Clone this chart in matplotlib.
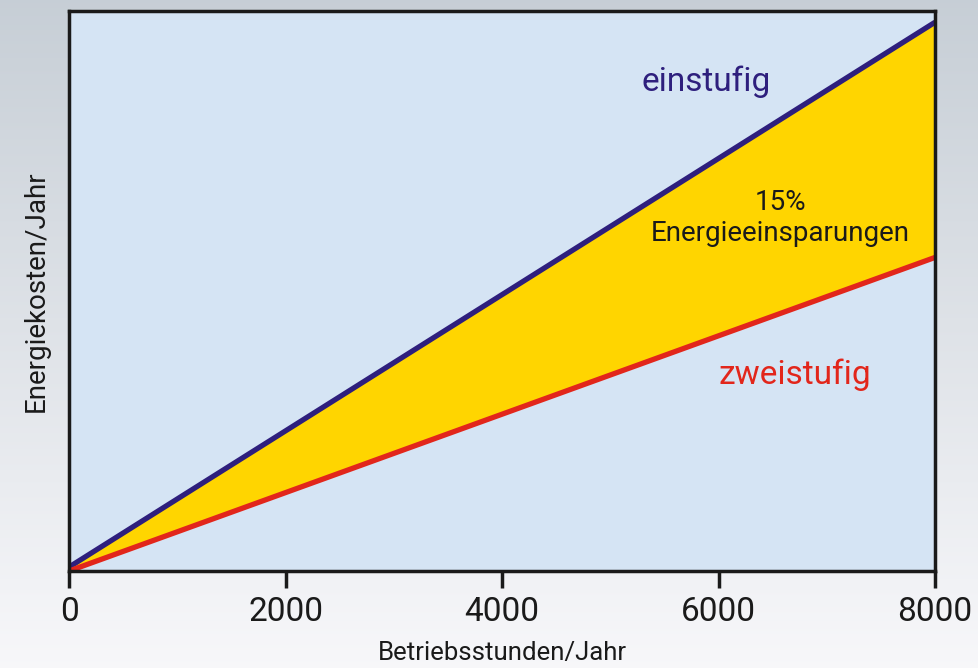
import numpy as np
import matplotlib
matplotlib.use('Agg')
from matplotlib import pyplot as plt

plt.rcParams['font.family'] = ['Roboto', 'DejaVu Sans']

hours = [0, 8000]
einstufig = [0.7, 98.0]
zweistufig = [0.0, 56.0]
xticks = [0, 2000, 4000, 6000, 8000]

blue = '#2e1f7d'
red = '#e2261b'
yellow = '#ffd500'

fig = plt.figure(figsize=(9.79, 6.68), dpi=100)

# soft grey backdrop standing in for the photo behind the chart
bg = fig.add_axes([0, 0, 1, 1])
grad = np.linspace(0, 1, 256).reshape(-1, 1)
top_c = np.array([0.78, 0.81, 0.84])
bot_c = np.array([0.97, 0.97, 0.98])
img = top_c + (bot_c - top_c) * grad[:, :, None]
bg.imshow(img, aspect='auto', extent=[0, 1, 0, 1], origin='upper')
bg.axis('off')

ax = fig.add_axes([0.0705, 0.1452, 0.8846, 0.8383])
ax.set_facecolor('#d5e4f4')
ax.fill_between(hours, zweistufig, einstufig, color=yellow, lw=0)
ax.plot(hours, einstufig, color=blue, lw=3.8, solid_capstyle='butt')
ax.plot(hours, zweistufig, color=red, lw=3.8, solid_capstyle='butt')

ax.set_xlim(0, 8000)
ax.set_ylim(0, 100)
ax.set_xticks(xticks)
ax.set_xticklabels([str(t) for t in xticks], fontsize=24, color='#1a1a1a')
ax.set_yticks([])
ax.tick_params(axis='x', length=12, width=2.5, color='#1a1a1a', pad=6)
for s in ax.spines.values():
    s.set_linewidth(2.5)
    s.set_color('#1a1a1a')

ax.set_xlabel('Betriebsstunden/Jahr', fontsize=18.5, color='#1a1a1a', labelpad=9)
ax.set_ylabel('Energiekosten/Jahr', fontsize=20, color='#1a1a1a', labelpad=14)

ax.text(5885, 87.3, 'einstufig', fontsize=24, color=blue, ha='center', va='center')
ax.text(6707, 35.0, 'zweistufig', fontsize=24, color=red, ha='center', va='center')
ax.text(6568, 63.0, '15%\nEnergieeinsparungen', fontsize=20, color='#1a1a1a',
        ha='center', va='center', linespacing=1.2)

plt.savefig('out.png', dpi=100)
